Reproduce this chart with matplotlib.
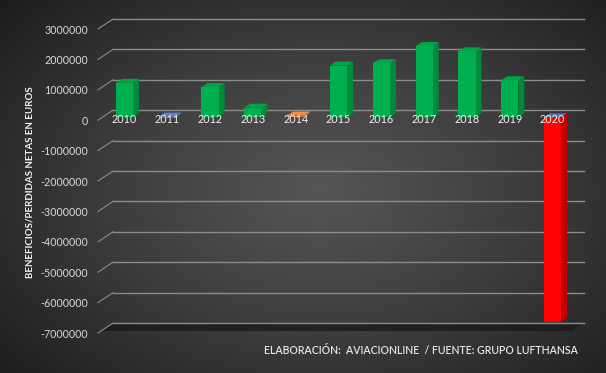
import numpy as np
import matplotlib.pyplot as plt
from matplotlib.colors import LinearSegmentedColormap
from matplotlib.patches import Polygon
from matplotlib.transforms import IdentityTransform

plt.rcParams['font.family'] = ['Lato', 'DejaVu Sans']

# Lufthansa net result (euros, as labelled on the chart)
years = ['2010', '2011', '2012', '2013', '2014', '2015', '2016', '2017', '2018', '2019', '2020']
values = [1131000, -13000, 990000, 313000, 55000, 1698000, 1776000, 2340000, 2163000, 1213000, -6725000]
yticks = [3000000, 2000000, 1000000, 0, -1000000, -2000000, -3000000,
          -4000000, -5000000, -6000000, -7000000]

# face / side / top colours for each bar
face_cols = ['#00b050', '#4a72b8', '#00b050', '#00b050', '#ed7d31', '#00b050',
             '#00b050', '#00b050', '#00b050', '#00b050', '#ff0000']
side_cols = ['#008a3e', '#34558c', '#008a3e', '#008a3e', '#b85f22', '#008a3e',
             '#008a3e', '#008a3e', '#008a3e', '#008a3e', '#c00000']
top_cols = ['#00a548', '#5b83c6', '#00a548', '#00a548', '#f09050', '#00a548',
            '#00a548', '#00a548', '#00a548', '#00a548', '#5a6fa0']

W, H = 606, 373
fig = plt.figure(figsize=(W / 100, H / 100), dpi=100)

# background radial gradient
bg = fig.add_axes([0, 0, 1, 1])
bg.axis('off')
yy, xx = np.mgrid[0:H, 0:W]
r = np.sqrt(((xx - 320) / 430.0) ** 2 + ((yy - 190) / 290.0) ** 2)
cmap = LinearSegmentedColormap.from_list('bg', ['#565656', '#3c3c3c', '#1c1c1c'])
bg.imshow(np.clip(r, 0, 1), cmap=cmap, vmin=0, vmax=1, aspect='auto',
          extent=[0, 1, 0, 1], origin='upper')
bg.set_xlim(0, 1)
bg.set_ylim(0, 1)

ax = fig.add_axes([98 / W, 40 / H, 471 / W, 304 / H])
ax.set_xlim(-0.5, len(years) - 0.5)
ax.set_ylim(-7000000, 3000000)
ax.patch.set_alpha(0)
for s in ax.spines.values():
    s.set_visible(False)
ax.set_xticks([])
ax.set_yticks(yticks)
ax.set_yticklabels([str(t) for t in yticks])
ax.tick_params(axis='y', length=0, pad=7, labelsize=7.7, labelcolor='#d9d9d9')

# depth offsets in pixels
DX, DY = 15, 10      # back wall
BX, BY = 5, 3        # bar front face
BD, BDY = 6, 4       # bar depth
ident = IdentityTransform()


def disp(x, y):
    return ax.transData.transform((x, y))


x0 = -0.5
x1 = len(years) - 0.5

# floor
fl, fr = disp(x0, -7000000), disp(x1, -7000000)
floor = Polygon([fl + [DX * 0.2, DY * 0.2], fr + [DX * 0.2, DY * 0.2], fr + [DX, DY], fl + [DX, DY]],
                closed=True, facecolor='#1a1a1a', edgecolor='none', alpha=0.8,
                transform=ident, zorder=1, clip_on=False)
ax.add_patch(floor)

# back wall gridlines + diagonals
for t in yticks:
    a, b = disp(x0, t), disp(x1, t)
    ax.plot([a[0] + DX, b[0] + DX], [a[1] + DY, b[1] + DY], color='#8c8c8c',
            lw=1, transform=ident, zorder=2, clip_on=False)
    ax.plot([a[0], a[0] + DX], [a[1], a[1] + DY], color='#8c8c8c',
            lw=0.8, transform=ident, zorder=2, clip_on=False)

# bars
for i, v in enumerate(values):
    xl = disp(i - 0.2, 0)[0] + BX
    xr = disp(i + 0.2, 0)[0] + BX
    y0 = disp(i, 0)[1] + BY
    yv = disp(i, v)[1] + BY
    lo, hi = min(y0, yv), max(y0, yv)
    if hi - lo < 1:
        hi = lo + 1
    front = Polygon([(xl, lo), (xr, lo), (xr, hi), (xl, hi)], closed=True,
                    facecolor=face_cols[i], edgecolor='none', transform=ident,
                    zorder=4, clip_on=False)
    side = Polygon([(xr, lo), (xr + BD, lo + BDY), (xr + BD, hi + BDY), (xr, hi)],
                   closed=True, facecolor=side_cols[i], edgecolor='none',
                   transform=ident, zorder=4, clip_on=False)
    top = Polygon([(xl, hi), (xr, hi), (xr + BD, hi + BDY), (xl + BD, hi + BDY)],
                  closed=True, facecolor=top_cols[i], edgecolor='none',
                  transform=ident, zorder=4, clip_on=False)
    for p in (side, top, front):
        ax.add_patch(p)
    # year label on the zero line
    cx = (xl + xr) / 2
    ax.text(cx, disp(i, 0)[1] + 1, years[i], transform=ident, ha='center',
            va='center', fontsize=7.8, color='#f2f2f2', zorder=6)

fig.text(30 / W, 1 - 182 / H, 'BENEFICIOS/PERDIDAS NETAS EN EUROS', rotation=90,
         ha='center', va='center', fontsize=7, fontweight='bold', color='#f2f2f2')
fig.text(578 / W, 1 - 351 / H, 'ELABORACIÓN:  AVIACIONLINE  / FUENTE: GRUPO LUFTHANSA',
         ha='right', va='center', fontsize=7.6, fontweight='semibold', color='#e6e6e6')

fig.savefig('out.png', dpi=100)
